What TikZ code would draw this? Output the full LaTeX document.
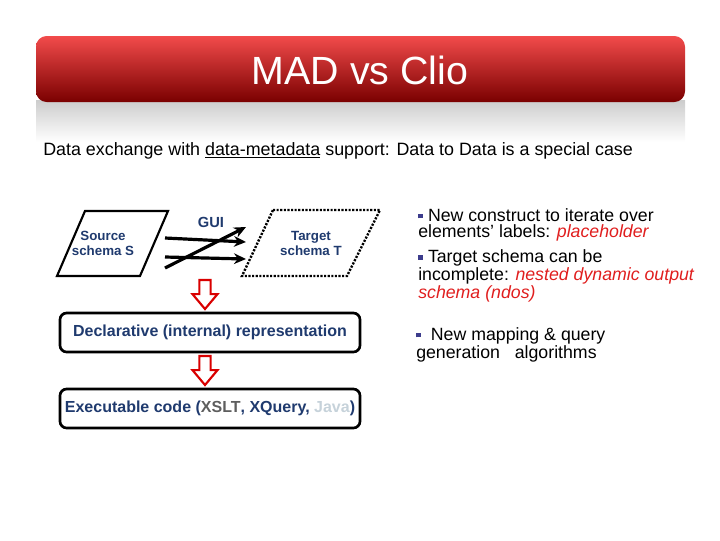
\documentclass[tikz,border=0pt]{standalone}
\usepackage{fontspec}
\setmainfont{Liberation Sans}
\usetikzlibrary{arrows.meta,shapes.arrows,calc}
\definecolor{titletop}{HTML}{F24B4B}
\definecolor{titlemid}{HTML}{D42222}
\definecolor{titlebot}{HTML}{7A0000}
\definecolor{labelblue}{HTML}{1F3A6E}
\definecolor{hilitered}{HTML}{E01E1E}
\definecolor{bulletblue}{HTML}{3C3C8C}
\definecolor{codegray}{HTML}{5E5E5E}
\definecolor{javagray}{HTML}{C6D2DA}
\tikzset{
  schemalab/.style={font=\fontsize{10}{11.25}\selectfont\bfseries, text=labelblue,
    align=center, inner sep=0pt},
  stagebox/.style={draw=black, line width=2pt, rounded corners=5pt,
    minimum width=225pt, minimum height=29.25pt, inner sep=0pt,
    font=\fontsize{12}{14}\selectfont\bfseries, text=labelblue},
  guiflow/.style={-{Stealth[length=9pt, width=8pt]}, line width=2.4pt, black},
  downflow/.style={single arrow, draw=red!85!black, fill=white, line width=1.6pt,
    shape border rotate=270, minimum height=21.75pt, single arrow head extend=5.2pt,
    inner sep=3.4pt, single arrow tip angle=80},
  pointtext/.style={font=\fontsize{13.3}{12}\selectfont, align=left, inner sep=0pt,
    anchor=base west},
}
\newcommand{\pointmark}{\textcolor{bulletblue}{\rule[2pt]{3.6pt}{3.6pt}}}
\newcommand{\hilite}[1]{\textcolor{hilitered}{\itshape #1}}

\begin{document}
\begin{tikzpicture}[x=0.75pt, y=-0.75pt]
\useasboundingbox (0,0) rectangle (720,540);
% title bar and the grey band under it
\shade[top color=black!20, bottom color=white] (36,100) rectangle (685,142);
\shade[top color=titletop, middle color=titlemid, bottom color=titlebot,
  rounded corners=8pt] (36,36) rectangle (685,102);
\node[font=\fontsize{29.5}{32}\selectfont, text=white] (title) at (360,70) {MAD vs Clio};
\node[font=\fontsize{13.4}{15}\selectfont, anchor=base west, inner sep=0pt] (sub) at (43,155)
  {Data exchange with \underline{data-metadata} support: Data to Data is a special case};
% source and target schemas
\draw[line width=1.6pt] (85,211) -- (168,211) -- (140,276) -- (57,276) -- cycle;
\draw[line width=1.8pt, dash pattern=on 1.6pt off 1.1pt] (273,210) -- (380,210)
  -- (347,276) -- (242,276) -- cycle;
\node[schemalab] (src) at (103,243) {Source\\schema S};
\node[schemalab] (tgt) at (311,243) {Target\\schema T};
\node[schemalab, font=\fontsize{11}{12}\selectfont\bfseries] (gui) at (211,222) {GUI};
\coordinate (s1) at (165,238); \coordinate (t1) at (246,242);
\coordinate (s2) at (165,257); \coordinate (t2) at (246,259);
\coordinate (s3) at (165,268); \coordinate (t3) at (246,227);
\draw[guiflow] (s1) -- (t1);
\draw[guiflow] (s2) -- (t2);
\draw[guiflow] (s3) -- (t3);
% the two generation stages
\node[stagebox] (decl) at (210,332.5) {Declarative (internal) representation};
\node[stagebox] (exec) at (210,408.5)
  {Executable code (\textcolor{codegray}{XSLT}, XQuery, \textcolor{javagray}{Java})};
\node[downflow, anchor=tip] (d1) at ($(decl.north)+(-5,-1)$) {};
\node[downflow, anchor=tip] (d2) at ($(exec.north)+(-5,-1)$) {};
% the points on the right
\node[pointtext] (p1) at (418,237)
  {\pointmark\ New construct to iterate over\\elements’ labels: \hilite{placeholder}};
\node[pointtext] (p2) at (418,298)
  {\pointmark\ Target schema can be\\incomplete: \hilite{nested dynamic output}\\\hilite{schema (ndos)}};
\node[pointtext] (p3) at (416,358)
  {\pointmark\ \ New mapping \& query\\generation\ \ \ algorithms};
\end{tikzpicture}
\end{document}
